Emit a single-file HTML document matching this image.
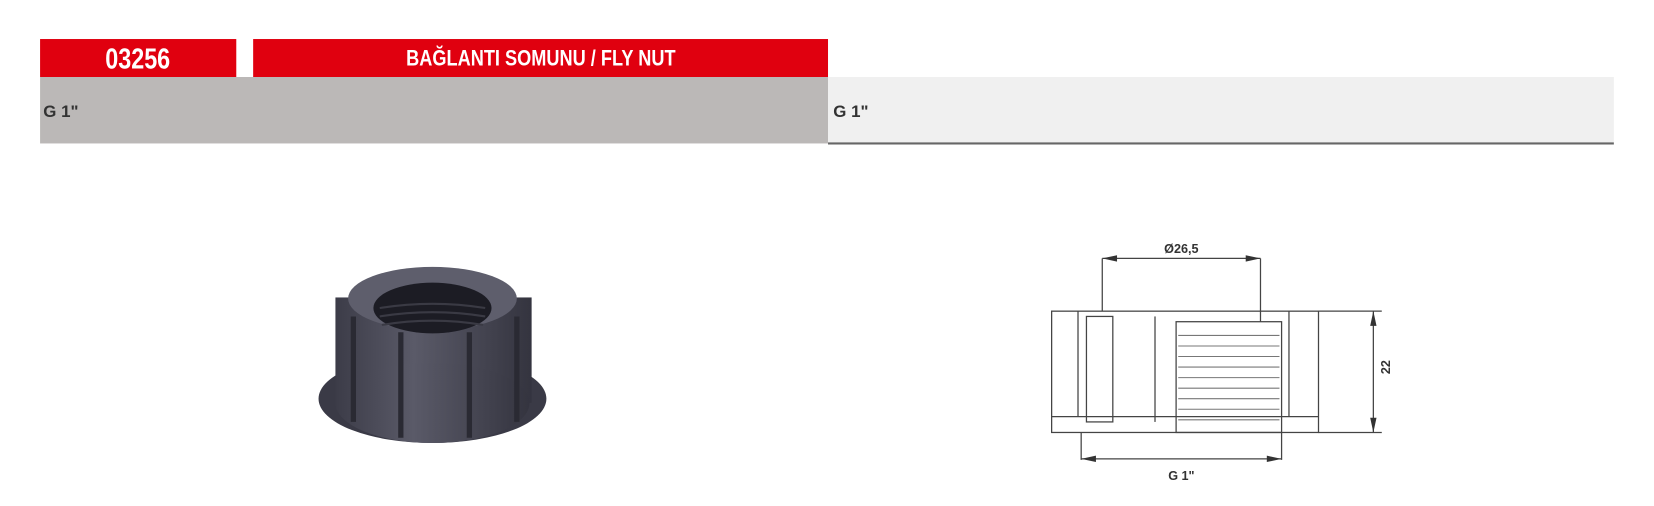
<!DOCTYPE html>
<html><head><meta charset="utf-8"><style>
body{margin:0;width:1654px;height:506px;background:#fff;position:relative;overflow:hidden;font-family:"Liberation Sans",sans-serif}
#w{position:absolute;left:0;top:0;width:1568px;height:480px;transform:scale(1.0548);transform-origin:0 0}
.r{position:absolute;background:#e0000f;color:#fff;font-weight:bold;text-align:center;top:37px;height:36px;line-height:38px}
.r span{display:inline-block;transform:scaleX(0.82)}
</style></head><body><div id="w">
<div class="r" style="left:38px;width:186px;font-size:27px"><span>03256</span></div>
<div class="r" style="left:240px;width:545px;font-size:21px"><span>BAĞLANTI SOMUNU / FLY NUT</span></div>
<div style="position:absolute;left:38px;top:73px;width:747px;height:63px;background:#bbb8b7"></div>
<div style="position:absolute;left:785px;top:73px;width:745px;height:62px;background:#f0f0f0;border-bottom:2px solid #666"></div>
<div style="position:absolute;left:41px;top:98px;font-size:16px;font-weight:bold;color:#333">G 1"</div>
<div style="position:absolute;left:790px;top:98px;font-size:16px;font-weight:bold;color:#333">G 1"</div>
<svg style="position:absolute;left:0;top:0" width="1568" height="480">
<defs><linearGradient id="g" x1="0" x2="1"><stop offset="0" stop-color="#3c3c48"/><stop offset=".4" stop-color="#5a5a68"/><stop offset="1" stop-color="#34343f"/></linearGradient></defs>
<ellipse cx="410" cy="378" rx="108" ry="42" fill="#3a3a46"/>
<rect x="318" y="282" width="186" height="100" fill="url(#g)"/>
<ellipse cx="410" cy="382" rx="92" ry="38" fill="url(#g)"/>
<g stroke="#2a2a33" stroke-width="5"><line x1="335" y1="300" x2="335" y2="400"/><line x1="380" y1="315" x2="380" y2="415"/><line x1="445" y1="315" x2="445" y2="415"/><line x1="490" y1="300" x2="490" y2="400"/></g>
<ellipse cx="410" cy="283" rx="80" ry="30" fill="#5e5e6c"/>
<ellipse cx="410" cy="292" rx="56" ry="24" fill="#1c1c24"/>
<g stroke="#3a3a44" stroke-width="2" fill="none"><path d="M360 292q50 -8 100 0"/><path d="M360 300q50 -8 100 0"/><path d="M362 308q48 -8 96 0"/></g>
<g stroke="#444" stroke-width="1.2" fill="none">
<rect x="997" y="295" width="253" height="115"/>
<line x1="997" y1="395" x2="1250" y2="395"/>
<line x1="1022" y1="295" x2="1022" y2="395"/>
<rect x="1030" y="300" width="25" height="100"/>
<line x1="1095" y1="300" x2="1095" y2="400"/>
<rect x="1115" y="305" width="100" height="105"/>
<line x1="1222" y1="295" x2="1222" y2="395"/>
<line x1="1045" y1="245" x2="1045" y2="295"/><line x1="1195" y1="245" x2="1195" y2="305"/>
<line x1="1045" y1="245" x2="1195" y2="245"/>
<line x1="1250" y1="295" x2="1310" y2="295"/><line x1="1250" y1="410" x2="1310" y2="410"/>
<line x1="1302" y1="295" x2="1302" y2="410"/>
<line x1="1025" y1="410" x2="1025" y2="436"/><line x1="1215" y1="410" x2="1215" y2="436"/>
<line x1="1025" y1="435" x2="1215" y2="435"/>
</g>
<g stroke="#777" stroke-width="1"><path d="M1117 318h96M1117 328h96M1117 338h96M1117 348h96M1117 358h96M1117 368h96M1117 378h96M1117 388h96M1117 398h96"/></g>
<g fill="#333"><path d="M1045 245l14 -3v6z"/><path d="M1195 245l-14 -3v6z"/><path d="M1302 295l-3 14h6z"/><path d="M1302 410l-3 -14h6z"/><path d="M1025 435l14 -3v6z"/><path d="M1215 435l-14 -3v6z"/></g>
<text x="1120" y="240" font-size="12" font-weight="bold" fill="#333" text-anchor="middle" font-family="Liberation Sans">Ø26,5</text>
<text x="1120" y="455" font-size="12" font-weight="bold" fill="#333" text-anchor="middle" font-family="Liberation Sans">G 1"</text>
<text x="0" y="0" font-size="12" font-weight="bold" fill="#333" text-anchor="middle" font-family="Liberation Sans" transform="translate(1318,348) rotate(-90)">22</text>
</svg>
</div></body></html>
